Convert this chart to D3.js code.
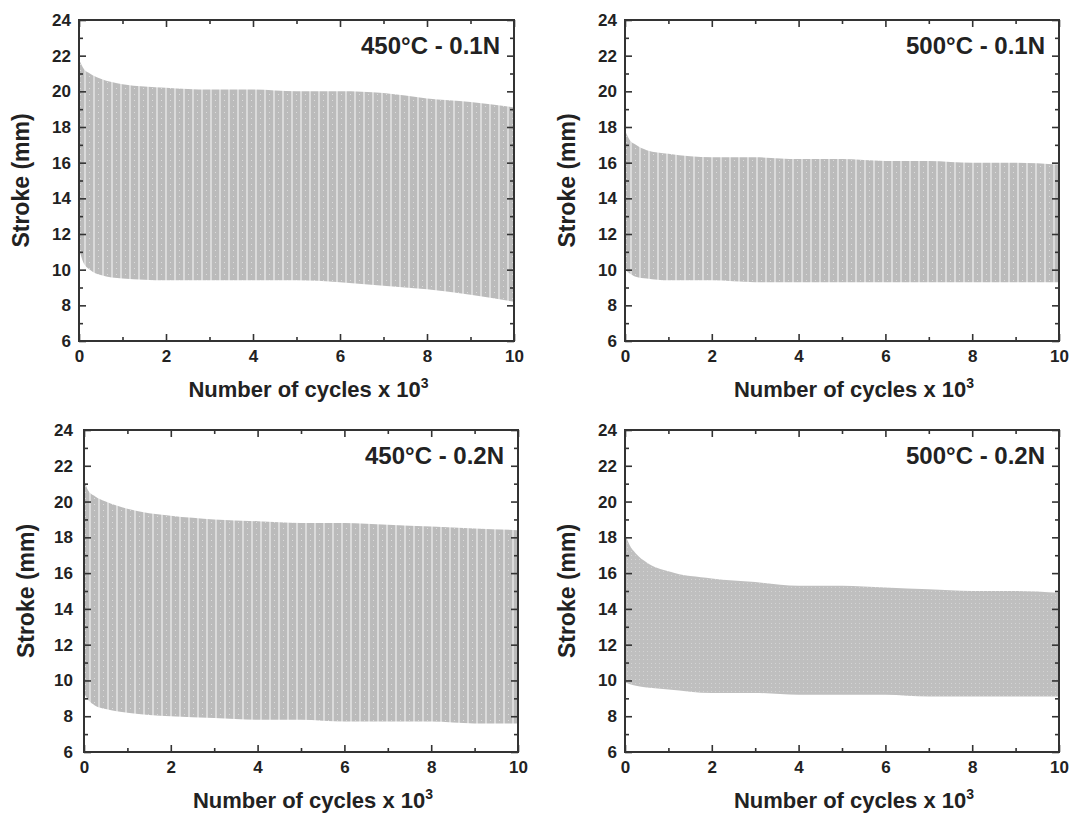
<!DOCTYPE html>
<html>
<head>
<meta charset="utf-8">
<script src="https://cdn.jsdelivr.net/npm/d3@7"></script>
<style>
  body { margin: 0; background: #fff; }
  text { font-family: "Liberation Sans", Arial, sans-serif; font-weight: bold; fill: #222; }
</style>
</head>
<body>
<svg id="chart" width="1072" height="814"></svg>
<script>
const cycles = [0, 0.1, 0.25, 0.5, 1, 2, 3, 4, 5, 6, 7, 8, 9, 10];

// upper / lower stroke envelope (mm) for each test
const upper450_01 = [21.8, 21.3, 21.0, 20.7, 20.4, 20.2, 20.1, 20.1, 20.0, 20.0, 19.9, 19.6, 19.4, 19.1];
const lower450_01 = [11.2, 10.4, 10.0, 9.7, 9.5, 9.4, 9.4, 9.4, 9.4, 9.3, 9.1, 8.9, 8.6, 8.2];
const upper500_01 = [17.8, 17.3, 17.0, 16.7, 16.5, 16.3, 16.3, 16.2, 16.2, 16.1, 16.1, 16.0, 16.0, 15.9];
const lower500_01 = [10.0, 9.8, 9.6, 9.5, 9.4, 9.4, 9.3, 9.3, 9.3, 9.3, 9.3, 9.3, 9.3, 9.3];
const upper450_02 = [21.2, 20.6, 20.3, 20.0, 19.6, 19.2, 19.0, 18.9, 18.8, 18.8, 18.7, 18.6, 18.5, 18.4];
const lower450_02 = [9.3, 8.9, 8.6, 8.4, 8.2, 8.0, 7.9, 7.8, 7.8, 7.7, 7.7, 7.7, 7.6, 7.6];
const upper500_02 = [18.2, 17.6, 17.1, 16.6, 16.1, 15.7, 15.5, 15.3, 15.3, 15.2, 15.1, 15.0, 15.0, 14.9];
const lower500_02 = [9.9, 9.8, 9.7, 9.6, 9.5, 9.3, 9.3, 9.2, 9.2, 9.2, 9.1, 9.1, 9.1, 9.1];

const titles = ["450°C - 0.1N", "500°C - 0.1N", "450°C - 0.2N", "500°C - 0.2N"];
const xTicks = [0, 2, 4, 6, 8, 10];
const yTicks = [6, 8, 10, 12, 14, 16, 18, 20, 22, 24];

const panels = [
  { title: titles[0], up: upper450_01, lo: lower450_01, box: { l: 79, t: 20, r: 514, b: 341 }, pad: 8, striped: true },
  { title: titles[1], up: upper500_01, lo: lower500_01, box: { l: 625, t: 20, r: 1059, b: 341 }, pad: 8, striped: true },
  { title: titles[2], up: upper450_02, lo: lower450_02, box: { l: 84, t: 430, r: 518, b: 752 }, pad: 11, striped: true },
  { title: titles[3], up: upper500_02, lo: lower500_02, box: { l: 625, t: 430, r: 1059, b: 752 }, pad: 8, striped: false }
];

const svg = d3.select("#chart");
const defs = svg.append("defs");

// texture of the dense cycle data: grey with light vertical streaks
const pat = defs.append("pattern").attr("id", "stripes")
  .attr("patternUnits", "userSpaceOnUse").attr("width", 9).attr("height", 6);
pat.append("rect").attr("width", 9).attr("height", 6).attr("fill", "#bbbbbb");
pat.append("rect").attr("x", 5).attr("width", 2).attr("height", 6).attr("fill", "#dadada");
pat.append("rect").attr("x", 1).attr("y", 2).attr("width", 1).attr("height", 1).attr("fill", "#dcdcdc");

const fine = defs.append("pattern").attr("id", "fine")
  .attr("patternUnits", "userSpaceOnUse").attr("width", 4).attr("height", 4);
fine.append("rect").attr("width", 4).attr("height", 4).attr("fill", "#bfbfbf");
fine.append("rect").attr("x", 2).attr("y", 1).attr("width", 1).attr("height", 1).attr("fill", "#d4d4d4");

panels.forEach(function(p) {
  const w = p.box.r - p.box.l, h = p.box.b - p.box.t;
  const g = svg.append("g").attr("transform", `translate(${p.box.l}, ${p.box.t})`);

  const x = d3.scaleLinear().domain([0, 10]).range([0, w]);
  const y = d3.scaleLinear().domain([6, 24]).range([h, 0]);

  const data = cycles.map((c, i) => ({ c: c, up: p.up[i], lo: p.lo[i] }));

  const area = d3.area()
    .x(d => x(d.c))
    .y0(d => y(d.lo))
    .y1(d => y(d.up))
    .curve(d3.curveMonotoneX);

  g.append("path")
    .datum(data)
    .attr("d", area)
    .attr("fill", p.striped ? "url(#stripes)" : "url(#fine)");

  // axes with inward ticks
  const axisCol = "#333";
  const minor = d3.range(1, 10, 2);
  const minorY = d3.range(7, 24, 2);

  g.append("g").attr("transform", `translate(0,${h})`)
    .call(d3.axisBottom(x).tickValues(xTicks).tickSize(-7).tickPadding(9).tickFormat(d3.format("d")));
  g.append("g").attr("transform", `translate(0,${h})`)
    .call(d3.axisBottom(x).tickValues(minor).tickSize(-4).tickFormat(""));
  g.append("g").call(d3.axisTop(x).tickValues(xTicks).tickSize(-7).tickFormat(""));
  g.append("g").call(d3.axisTop(x).tickValues(minor).tickSize(-4).tickFormat(""));

  g.append("g")
    .call(d3.axisLeft(y).tickValues(yTicks).tickSize(-7).tickPadding(p.pad).tickFormat(d3.format("d")));
  g.append("g").call(d3.axisLeft(y).tickValues(minorY).tickSize(-4).tickFormat(""));
  g.append("g").attr("transform", `translate(${w},0)`)
    .call(d3.axisRight(y).tickValues(yTicks).tickSize(-7).tickFormat(""));
  g.append("g").attr("transform", `translate(${w},0)`)
    .call(d3.axisRight(y).tickValues(minorY).tickSize(-4).tickFormat(""));

  g.selectAll(".domain").remove();
  g.selectAll(".tick line").attr("stroke", axisCol).attr("stroke-width", 1.6);
  g.selectAll(".tick text").style("font-size", "17px").style("font-weight", "bold").attr("fill", "#222");

  g.append("rect").attr("width", w).attr("height", h)
    .attr("fill", "none").attr("stroke", axisCol).attr("stroke-width", 2);

  // labels
  g.append("text")
    .attr("transform", "rotate(-90)")
    .attr("x", -h / 2)
    .attr("y", -50)
    .attr("text-anchor", "middle")
    .style("font-size", "23px")
    .text("Stroke (mm)");

  const xl = g.append("text")
    .attr("x", w / 2 + 12)
    .attr("y", h + 56)
    .attr("text-anchor", "middle")
    .style("font-size", "22px");
  xl.append("tspan").text("Number of cycles x 10");
  xl.append("tspan").attr("dy", -9).style("font-size", "14px").text("3");

  g.append("text")
    .attr("x", w - 14)
    .attr("y", 34)
    .attr("text-anchor", "end")
    .style("font-size", "24px")
    .text(p.title);
});
</script>
</body>
</html>
